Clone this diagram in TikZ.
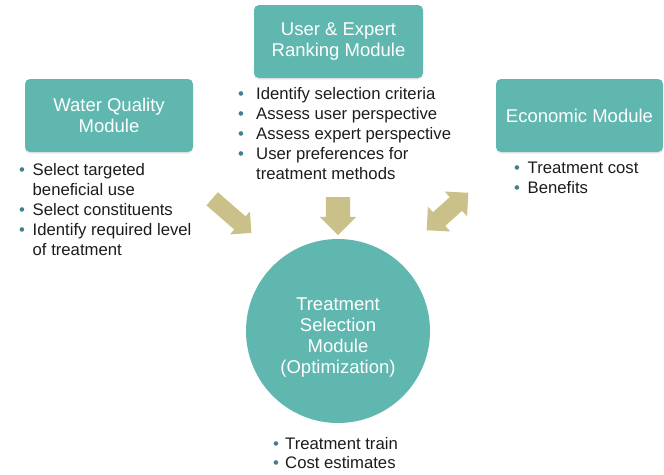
\documentclass[tikz,border=0pt]{standalone}
\usepackage{fontspec}
\setmainfont{Liberation Sans}
\usetikzlibrary{shapes.arrows,shadows}

\definecolor{modfill}{HTML}{5FB7AF}
\definecolor{flowfill}{HTML}{C9C189}
\definecolor{bulletcol}{HTML}{437F8C}
\definecolor{bodytext}{HTML}{1C1C1C}

% bullet set in a box of the given width, and a matching indent for wrapped lines
\newcommand{\bulletin}[1]{\makebox[#1][l]{\textcolor{bulletcol}{\textbullet}}}
\newcommand{\listfont}{\fontsize{16.7pt}{20.2pt}\selectfont}

\begin{document}
\begin{tikzpicture}[x=1pt,y=-1pt,
  modbox/.style={draw=none, fill=modfill, rounded corners=5pt, text=white,
    align=center, font=\fontsize{18.5pt}{20.5pt}\selectfont, inner sep=0pt,
    drop shadow={opacity=0.18, shadow xshift=0pt, shadow yshift=-1.5pt}},
  modcircle/.style={circle, fill=modfill, text=white, align=center,
    font=\fontsize{18.5pt}{21pt}\selectfont, minimum size=184pt, inner sep=0pt},
  bulletlist/.style={anchor=base west, inner sep=0pt, text=bodytext},
  % shaft width comes from inner ysep, head width from the head extend
  flowarrow/.style={single arrow, fill=flowfill, draw=none, inner xsep=0pt,
    inner ysep=8.5pt, single arrow head extend=6.5pt, single arrow tip angle=90},
  flowdouble/.style={double arrow, fill=flowfill, draw=none, inner xsep=0pt,
    inner ysep=9pt, double arrow head extend=7.5pt, double arrow tip angle=90}
]
\useasboundingbox (0,0) rectangle (664,474);

% module boxes
\node[modbox, minimum width=168pt, minimum height=73pt] (wq) at (109,115.5) {Water Quality\\Module};
\node[modbox, minimum width=169pt, minimum height=73pt] (ue) at (338.5,41.5) {User \& Expert\\Ranking Module};
\node[modbox, minimum width=167pt, minimum height=73pt] (ec) at (579.5,115.5) {Economic Module};
% the title sits a little below the middle of the circle
\node[modcircle] (ts) at (338,331) {\raisebox{-7pt}[\height][\depth]{\parbox{120pt}{\centering
  Treatment\\Selection\\Module\\(Optimization)}}};

% bullet lists under each module
\node[bulletlist] (wqlist) at (19,175) {\parbox[t]{220pt}{\listfont\raggedright
  \bulletin{13.5pt}Select targeted\\
  \hspace*{13.5pt}beneficial use\\
  \bulletin{13.5pt}Select constituents\\
  \bulletin{13.5pt}Identify required level\\
  \hspace*{13.5pt}of treatment}};

\node[bulletlist] (uelist) at (238,99) {\parbox[t]{240pt}{\listfont\raggedright
  \bulletin{18pt}Identify selection criteria\\
  \bulletin{18pt}Assess user perspective\\
  \bulletin{18pt}Assess expert perspective\\
  \bulletin{18pt}User preferences for\\
  \hspace*{18pt}treatment methods}};

\node[bulletlist] (eclist) at (514,173) {\parbox[t]{150pt}{\listfont\raggedright
  \bulletin{13.5pt}Treatment cost\\
  \bulletin{13.5pt}Benefits}};

\node[bulletlist] (tslist) at (273,449) {\parbox[t]{180pt}{\fontsize{16.7pt}{19pt}\selectfont\raggedright
  \bulletin{12pt}Treatment train\\
  \bulletin{12pt}Cost estimates}};

% block arrows feeding the selection module
\node[flowarrow, minimum height=52pt, rotate=-41] (wqflow) at (228.5,213) {};
\node[flowarrow, minimum height=38pt, inner ysep=12pt, single arrow head extend=6pt, rotate=-90] (ueflow) at (338,210) {};
\node[flowdouble, minimum height=56pt, rotate=42] (ecflow) at (447.5,211.5) {};
\end{tikzpicture}
\end{document}
